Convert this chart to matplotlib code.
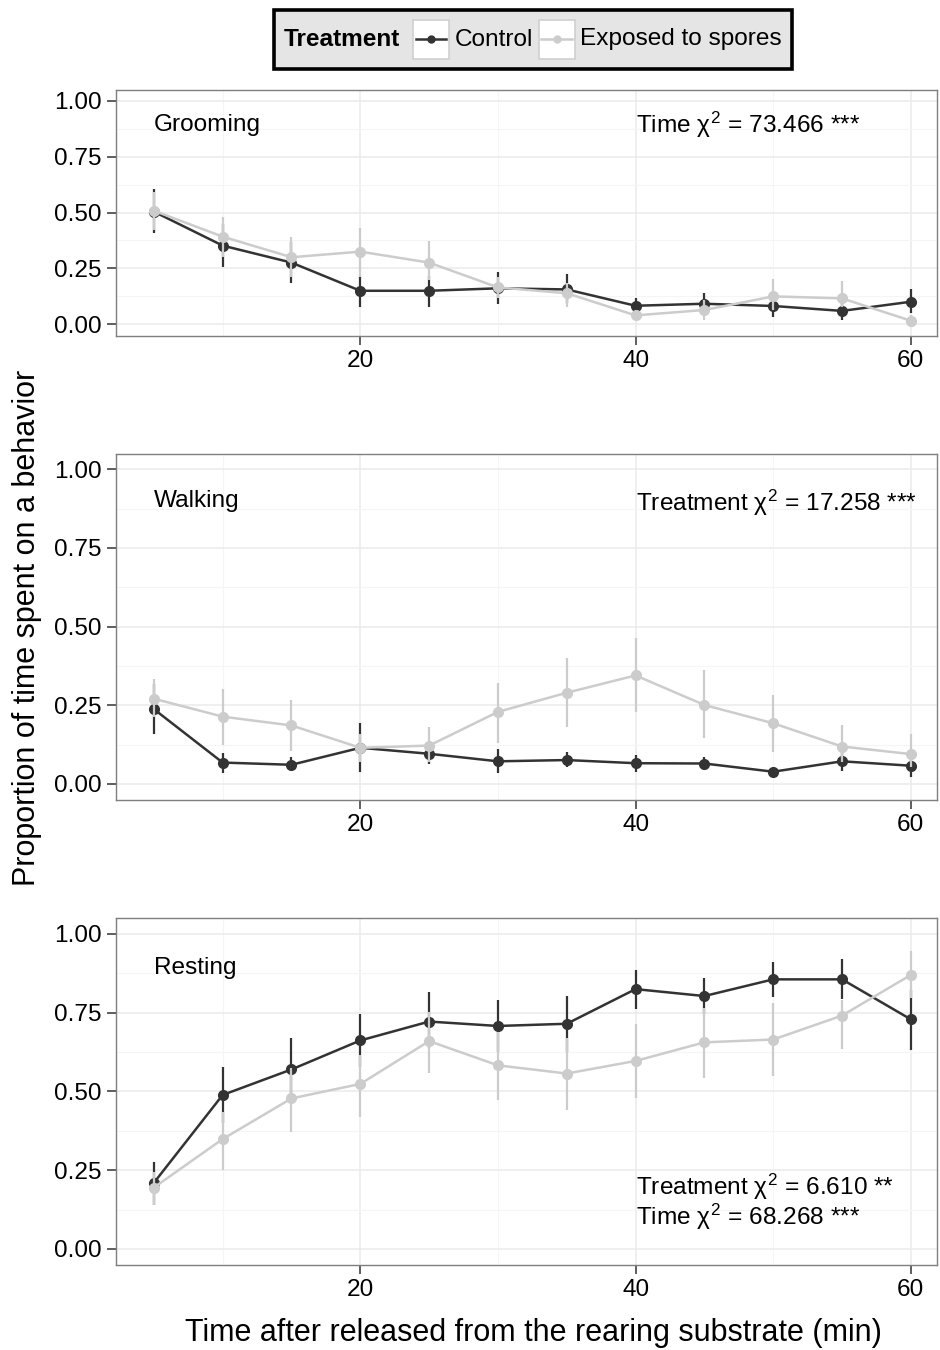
import matplotlib
matplotlib.use("Agg")
import matplotlib.pyplot as plt
import numpy as np
from matplotlib.offsetbox import AnchoredOffsetbox, DrawingArea, HPacker, TextArea
from matplotlib.patches import Rectangle
from matplotlib.lines import Line2D
from matplotlib.ticker import FixedLocator

plt.rcParams['font.family'] = ['Liberation Sans', 'DejaVu Sans']
plt.rcParams['mathtext.fontset'] = 'custom'
plt.rcParams['mathtext.rm'] = 'Liberation Sans'
plt.rcParams['mathtext.it'] = 'Liberation Sans'

# minutes after release
time_min = [5, 10, 15, 20, 25, 30, 35, 40, 45, 50, 55, 60]

# Grooming
groom_ctrl = [0.504, 0.352, 0.276, 0.150, 0.150, 0.161, 0.156, 0.083, 0.092, 0.082, 0.060, 0.101]
groom_ctrl_lo = [0.407, 0.258, 0.186, 0.079, 0.079, 0.089, 0.094, 0.042, 0.049, 0.034, 0.019, 0.049]
groom_ctrl_hi = [0.604, 0.449, 0.367, 0.216, 0.216, 0.232, 0.225, 0.116, 0.139, 0.124, 0.101, 0.156]
groom_exp = [0.508, 0.392, 0.300, 0.325, 0.276, 0.165, 0.139, 0.040, 0.064, 0.125, 0.116, 0.016]
groom_exp_lo = [0.420, 0.300, 0.213, 0.213, 0.198, 0.116, 0.079, 0.019, 0.019, 0.064, 0.079, 0.000]
groom_exp_hi = [0.590, 0.480, 0.392, 0.432, 0.373, 0.213, 0.183, 0.064, 0.109, 0.201, 0.194, 0.042]

# Walking
walk_ctrl = [0.238, 0.068, 0.061, 0.115, 0.096, 0.072, 0.076, 0.066, 0.065, 0.039, 0.072, 0.058]
walk_ctrl_lo = [0.159, 0.036, 0.042, 0.038, 0.062, 0.034, 0.053, 0.039, 0.044, 0.029, 0.042, 0.023]
walk_ctrl_hi = [0.317, 0.097, 0.085, 0.193, 0.110, 0.110, 0.103, 0.092, 0.087, 0.050, 0.103, 0.082]
walk_exp = [0.271, 0.214, 0.186, 0.115, 0.122, 0.229, 0.290, 0.345, 0.251, 0.193, 0.119, 0.095]
walk_exp_lo = [0.214, 0.124, 0.105, 0.070, 0.071, 0.131, 0.182, 0.230, 0.145, 0.103, 0.071, 0.053]
walk_exp_hi = [0.335, 0.303, 0.266, 0.160, 0.180, 0.322, 0.399, 0.463, 0.361, 0.282, 0.188, 0.158]

# Resting
rest_ctrl = [0.210, 0.489, 0.570, 0.662, 0.722, 0.708, 0.715, 0.825, 0.803, 0.856, 0.856, 0.729]
rest_ctrl_lo = [0.140, 0.399, 0.484, 0.579, 0.637, 0.626, 0.626, 0.762, 0.747, 0.801, 0.793, 0.633]
rest_ctrl_hi = [0.275, 0.578, 0.671, 0.746, 0.815, 0.789, 0.802, 0.887, 0.859, 0.912, 0.922, 0.822]
rest_exp = [0.195, 0.349, 0.478, 0.524, 0.660, 0.583, 0.557, 0.597, 0.656, 0.665, 0.741, 0.870]
rest_exp_lo = [0.140, 0.251, 0.370, 0.420, 0.560, 0.473, 0.441, 0.478, 0.544, 0.549, 0.634, 0.796]
rest_exp_hi = [0.245, 0.436, 0.574, 0.616, 0.753, 0.690, 0.670, 0.713, 0.764, 0.780, 0.790, 0.947]

behaviors = ["Grooming", "Walking", "Resting"]
stats_text = [
    [r"Time $\chi^2$ = 73.466 ***"],
    [r"Treatment $\chi^2$ = 17.258 ***"],
    [r"Treatment $\chi^2$ = 6.610 **", r"Time $\chi^2$ = 68.268 ***"],
]
stats_y = [[0.857], [0.867], [0.171, 0.076]]
name_y = [0.866, 0.880, 0.873]

series = [
    (groom_ctrl, groom_ctrl_lo, groom_ctrl_hi, groom_exp, groom_exp_lo, groom_exp_hi),
    (walk_ctrl, walk_ctrl_lo, walk_ctrl_hi, walk_exp, walk_exp_lo, walk_exp_hi),
    (rest_ctrl, rest_ctrl_lo, rest_ctrl_hi, rest_exp, rest_exp_lo, rest_exp_hi),
]

dark = '#333333'
light = '#cccccc'
fs_tick = 17.6
fs_title = 22

fig = plt.figure(figsize=(9.4, 13.5), dpi=100)
positions = [
    (0.1234, 0.75148, 0.8734, 0.18222),
    (0.1234, 0.40763, 0.8734, 0.25637),
    (0.1234, 0.06315, 0.8734, 0.25667),
]

x = np.array(time_min)
for i, pos in enumerate(positions):
    ax = fig.add_axes(pos)
    c, clo, chi, e, elo, ehi = [np.array(s) for s in series[i]]
    for y, lo, hi, col, z in [(c, clo, chi, dark, 3), (e, elo, ehi, light, 4)]:
        ax.vlines(x, lo, hi, color=col, lw=1.6, zorder=z)
        ax.plot(x, y, color=col, lw=1.8, marker='o', ms=7, zorder=z)

    ax.set_xlim(2.25, 61.9)
    ax.set_ylim(-0.05, 1.05)
    ax.xaxis.set_major_locator(FixedLocator([20, 40, 60]))
    ax.xaxis.set_minor_locator(FixedLocator([10, 30, 50]))
    ax.yaxis.set_major_locator(FixedLocator([0, 0.25, 0.5, 0.75, 1.0]))
    ax.yaxis.set_minor_locator(FixedLocator([0.125, 0.375, 0.625, 0.875]))
    ax.set_yticklabels(['0.00', '0.25', '0.50', '0.75', '1.00'])
    ax.grid(which='major', color='#ebebeb', lw=1.1, zorder=0)
    ax.grid(which='minor', color='#f5f5f5', lw=0.8, zorder=0)
    ax.set_axisbelow(True)
    ax.tick_params(which='major', length=6.5, width=1.1, color=dark,
                   labelsize=fs_tick, labelcolor='black', pad=3.6)
    ax.tick_params(which='minor', length=0)
    for sp in ax.spines.values():
        sp.set_color('#7f7f7f')
        sp.set_linewidth(1.0)

    ax.text(5, name_y[i], behaviors[i], fontsize=fs_tick, ha='left', va='baseline')
    for t, ty in zip(stats_text[i], stats_y[i]):
        ax.text(40, ty, t, fontsize=fs_tick, ha='left', va='baseline')

fig.text(27 / 940, 0.5352, "Proportion of time spent on a behavior",
         rotation=90, ha='center', va='center', fontsize=fs_title)
fig.text(533 / 940, 0.0126, "Time after released from the rearing substrate (min)",
         ha='center', va='center', fontsize=fs_title)


def legend_key(col):
    da = DrawingArea(26, 28, 0, 0)
    da.add_artist(Rectangle((0, 0), 26, 28, fc='white', ec='#d0d0d0', lw=1.2))
    da.add_artist(Line2D([2, 24], [14, 14], color=col, lw=1.8))
    da.add_artist(Line2D([13], [14], color=col, marker='o', ms=5))
    return da


title_box = TextArea("Treatment", textprops=dict(fontsize=fs_tick, fontweight='bold'))
items = HPacker(children=[
    legend_key(dark),
    TextArea("Control", textprops=dict(fontsize=fs_tick)),
    legend_key(light),
    TextArea("Exposed to spores", textprops=dict(fontsize=fs_tick)),
], align='center', pad=0, sep=4)
box = HPacker(children=[title_box, items], align='center', pad=0, sep=9)
anchored = AnchoredOffsetbox(loc='center', child=box, pad=0.4, borderpad=0,
                             frameon=True, prop=dict(size=fs_tick),
                             bbox_to_anchor=(533 / 940, 1 - 39.5 / 1350),
                             bbox_transform=fig.transFigure)
anchored.patch.set_facecolor('#e5e5e5')
anchored.patch.set_edgecolor('black')
anchored.patch.set_linewidth(2.6)
anchored.patch.set_boxstyle('square', pad=0)
fig.add_artist(anchored)

fig.savefig("out.png", dpi=100)
